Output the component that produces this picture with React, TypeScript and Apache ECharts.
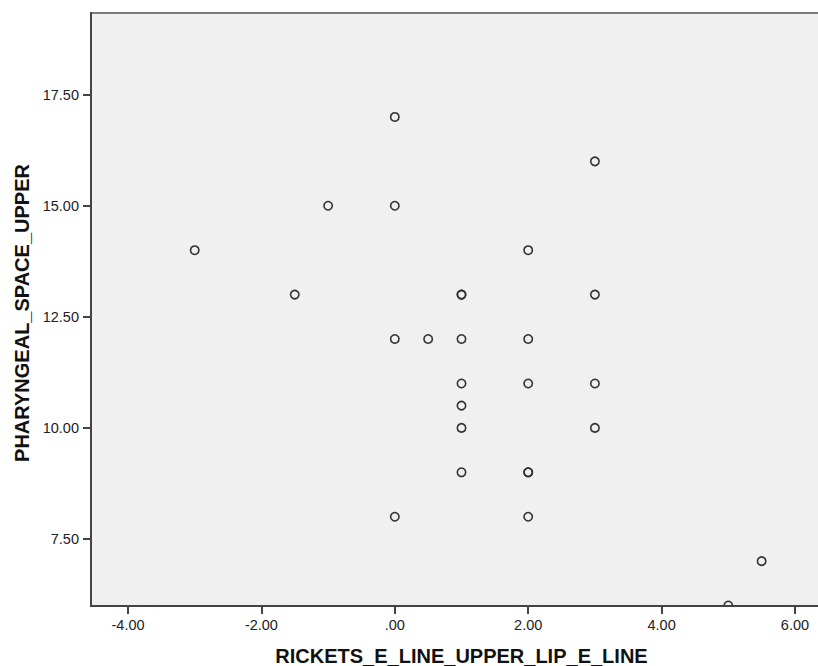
import React, { useEffect, useRef } from "react";
import * as echarts from "echarts";

const xValues = [0, 3, -1, 0, -3, 2, -1.5, 1, 1, 3, 0, 0.5, 1, 2, 1, 2, 3, 1, 1, 3, 1, 2, 2, 0, 2, 5.5, 5];
const yValues = [17, 16, 15, 15, 14, 14, 13, 13, 13, 13, 12, 12, 12, 12, 11, 11, 11, 10.5, 10, 10, 9, 9, 9, 8, 8, 7, 6];
const xTicks = [-4, -2, 0, 2, 4, 6];
const yTicks = [7.5, 10, 12.5, 15, 17.5];
const xName = "RICKETS_E_LINE_UPPER_LIP_E_LINE";
const yName = "PHARYNGEAL_SPACE_UPPER";

const fmt = (v: number) => {
  let s = Math.abs(v).toFixed(2);
  if (s.startsWith("0")) s = s.slice(1);
  return (v < 0 ? "-" : "") + s;
};

const FONT = "'Liberation Sans', Arial, sans-serif";

export default function App() {
  const ref = useRef<HTMLDivElement>(null);
  useEffect(() => {
    if (!ref.current) return;
    const chart = echarts.init(ref.current, null, { renderer: "svg" });
    const points = xValues.map((x, i) => [x, yValues[i]]);
    chart.setOption({
      animation: false,
      backgroundColor: "#ffffff",
      grid: {
        left: 91,
        top: 13,
        right: -14,
        bottom: 60,
        show: true,
        backgroundColor: "#f0f0f0",
        borderColor: "#7a7a7a",
        borderWidth: 2,
        outerBoundsMode: "none",
        containLabel: false,
      },
      xAxis: {
        type: "value",
        min: -4.555,
        max: 6.555,
        name: xName,
        nameLocation: "middle",
        nameGap: 40,
        nameMoveOverlap: false,
        nameTextStyle: { fontFamily: FONT, fontWeight: "bold", fontSize: 20, color: "#111" },
        axisLine: { show: true, onZero: false, lineStyle: { color: "#444", width: 2 } },
        axisTick: { show: true, length: 8, customValues: xTicks, lineStyle: { color: "#444", width: 2 } },
        axisLabel: {
          customValues: xTicks,
          formatter: fmt,
          margin: 11,
          fontFamily: FONT,
          fontSize: 14.5,
          color: "#222",
        },
        splitLine: { show: false },
      },
      yAxis: {
        type: "value",
        min: 5.99,
        max: 19.34,
        name: yName,
        nameLocation: "middle",
        nameGap: 59,
        nameMoveOverlap: false,
        nameTextStyle: { fontFamily: FONT, fontWeight: "bold", fontSize: 20, color: "#111", padding: [0, 7, 0, 0] },
        axisLine: { show: true, onZero: false, lineStyle: { color: "#444", width: 2 } },
        axisTick: { show: true, length: 8, customValues: yTicks, lineStyle: { color: "#444", width: 2 } },
        axisLabel: {
          customValues: yTicks,
          formatter: fmt,
          margin: 12,
          fontFamily: FONT,
          fontSize: 14.5,
          color: "#222",
        },
        splitLine: { show: false },
      },
      series: [
        {
          type: "custom",
          data: points,
          clip: true,
          encode: { x: 0, y: 1 },
          renderItem: (params: any, api: any) => {
            const p = api.coord([api.value(0), api.value(1)]);
            return {
              type: "circle",
              shape: { cx: p[0], cy: p[1], r: 4.2 },
              style: { fill: "none", stroke: "#333", lineWidth: 1.6 },
            };
          },
          emphasis: { disabled: true },
        },
      ],
    });
    return () => chart.dispose();
  }, []);
  return <div ref={ref} style={{ position: "absolute", left: 0, top: 0, width: 818, height: 666 }} />;
}
